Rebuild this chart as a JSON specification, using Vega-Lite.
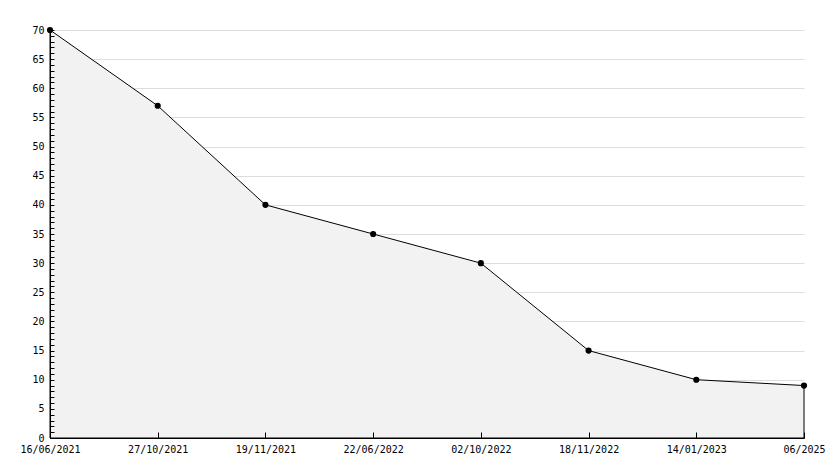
{
  "$schema": "https://vega.github.io/schema/vega-lite/v6.json",
  "width": 754,
  "height": 408,
  "padding": {"left": 50, "top": 30, "right": 30, "bottom": 30},
  "autosize": {"type": "none"},
  "background": "white",
  "config": {
    "view": {"stroke": null},
    "axis": {"labelFont": "DejaVu Sans Mono", "labelFontSize": 10, "labelColor": "black", "domainColor": "black", "tickColor": "black"}
  },
  "data": {
    "values": [
      {"date": "16/06/2021", "value": 70},
      {"date": "27/10/2021", "value": 57},
      {"date": "19/11/2021", "value": 40},
      {"date": "22/06/2022", "value": 35},
      {"date": "02/10/2022", "value": 30},
      {"date": "18/11/2022", "value": 15},
      {"date": "14/01/2023", "value": 10},
      {"date": "06/2025", "value": 9}
    ]
  },
  "resolve": {"axis": {"y": "independent"}},
  "layer": [
    {
      "mark": {"type": "area", "color": "#f2f2f2", "stroke": "black", "strokeWidth": 1},
      "encoding": {
        "x": {
          "field": "date", "type": "ordinal", "sort": null,
          "scale": {"type": "point", "padding": 0},
          "axis": {"title": null, "labelAngle": 0, "tickSize": -6, "labelPadding": 12, "grid": false, "domainColor": "black", "zindex": 1}
        },
        "y": {
          "field": "value", "type": "quantitative",
          "scale": {"domain": [0, 70], "nice": false},
          "axis": {
            "title": null, "orient": "left",
            "values": [0, 5, 10, 15, 20, 25, 30, 35, 40, 45, 50, 55, 60, 65, 70],
            "labels": false, "ticks": false, "domain": false,
            "grid": true, "gridColor": "#dddddd", "zindex": 0
          }
        }
      }
    },
    {
      "mark": {"type": "point", "shape": "circle", "filled": true, "color": "black", "size": 38, "opacity": 1},
      "encoding": {
        "x": {"field": "date", "type": "ordinal", "sort": null},
        "y": {
          "field": "value", "type": "quantitative",
          "axis": {
            "title": null, "orient": "left",
            "values": [0,1,2,3,4,5,6,7,8,9,10,11,12,13,14,15,16,17,18,19,20,21,22,23,24,25,26,27,28,29,30,31,32,33,34,35,36,37,38,39,40,41,42,43,44,45,46,47,48,49,50,51,52,53,54,55,56,57,58,59,60,61,62,63,64,65,66,67,68,69,70],
            "labelExpr": "datum.value % 5 === 0 ? datum.label : ''",
            "labelOverlap": false,
            "tickSize": -4,
            "labelPadding": 10,
            "grid": false,
            "zindex": 1
          }
        }
      }
    }
  ]
}
